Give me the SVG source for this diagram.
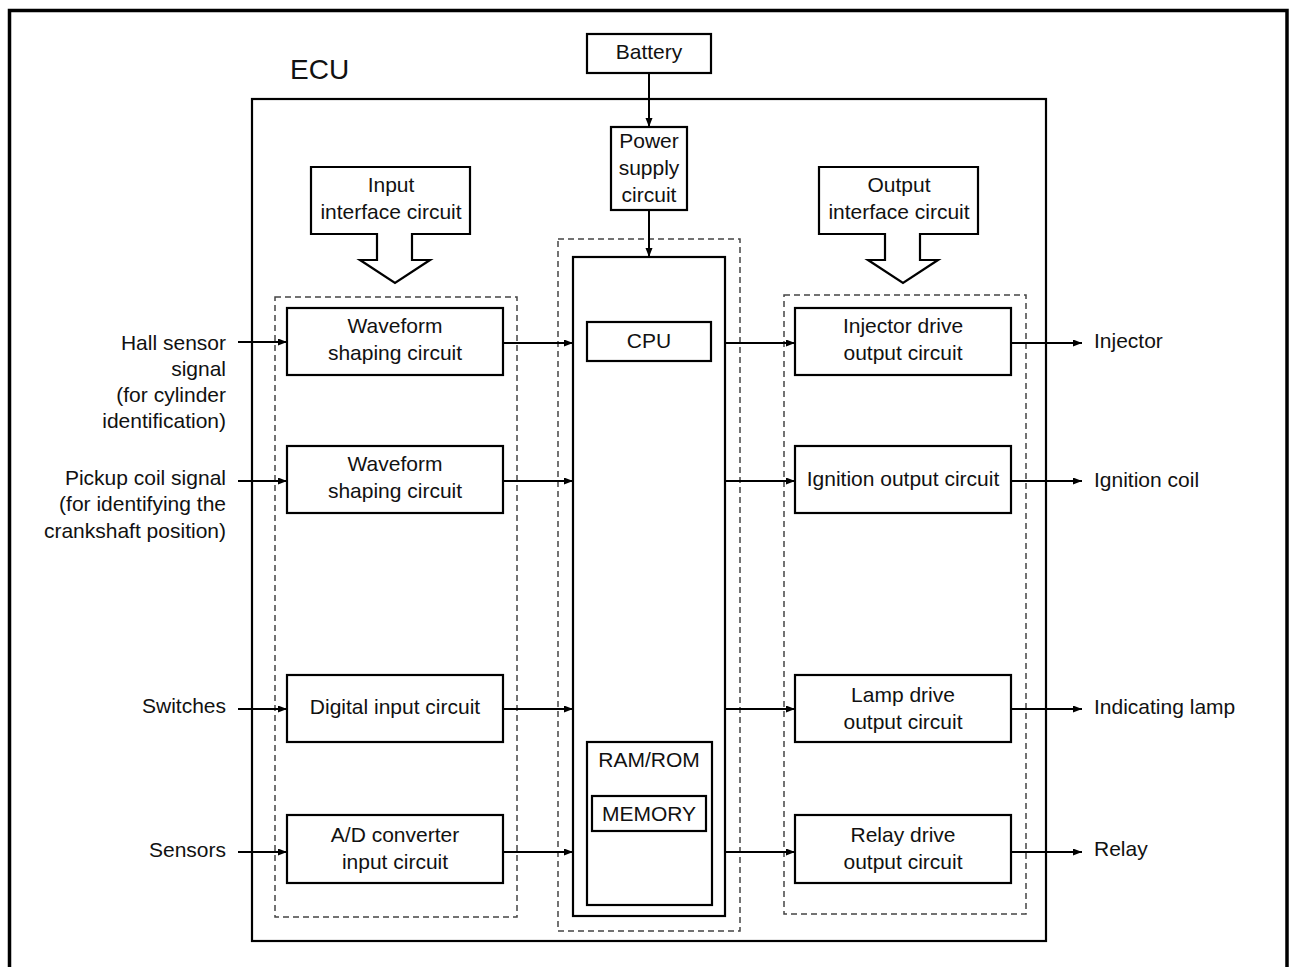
<svg xmlns="http://www.w3.org/2000/svg" width="1289" height="967" viewBox="0 0 1289 967">
<style>
text{font-family:"Liberation Sans",Arial,sans-serif;font-size:21px;fill:#111}
.c{text-anchor:middle}
.r{text-anchor:end}
.box{fill:#fff;stroke:#000;stroke-width:2.2}
.dash{fill:none;stroke:#444;stroke-width:1.5;stroke-dasharray:6 4}
.ln{fill:none;stroke:#000;stroke-width:2;marker-end:url(#ah)}
</style>
<defs>
<marker id="ah" markerUnits="userSpaceOnUse" markerWidth="10" markerHeight="8" refX="9" refY="3.5" orient="auto">
<path d="M0,0 L9,3.5 L0,7 z" fill="#000"/>
</marker>
</defs>
<rect width="1289" height="967" fill="#fff"/>
<path d="M9.5,967 V10.5 H1287 V967" fill="none" stroke="#000" stroke-width="3.5"/>
<g id="ecu">
<rect class="box" x="252" y="99" width="794" height="842" fill="none"/>
<text x="290" y="79" style="font-size:28px">ECU</text>
</g>
<g id="dashed-groups">
<rect class="dash" x="275" y="297" width="242" height="620"/>
<rect class="dash" x="558" y="239" width="182" height="692"/>
<rect class="dash" x="784" y="295" width="242" height="619"/>
</g>
<g id="battery">
<rect class="box" x="587" y="34" width="124" height="39"/>
<text class="c" x="649" y="59">Battery</text>
</g>
<g id="power">
<rect class="box" x="611" y="127" width="76" height="83"/>
<text class="c" x="649" y="148">Power</text>
<text class="c" x="649" y="175">supply</text>
<text class="c" x="649" y="202">circuit</text>
</g>
<g id="input-interface">
<path class="box" d="M311,167 H470 V234 H412 V260 H430 L395,283 L360,260 H377 V234 H311 Z"/>
<text class="c" x="391" y="192">Input</text>
<text class="c" x="391" y="219">interface circuit</text>
</g>
<g id="output-interface">
<path class="box" d="M819,167 H978 V234 H920 V260 H938 L903,283 L868,260 H885 V234 H819 Z"/>
<text class="c" x="899" y="192">Output</text>
<text class="c" x="899" y="219">interface circuit</text>
</g>
<g id="cpu-unit">
<rect class="box" x="573" y="257" width="152" height="659"/>
</g>
<g id="cpu">
<rect class="box" x="587" y="322" width="124" height="39"/>
<text class="c" x="649" y="348">CPU</text>
</g>
<g id="ramrom">
<rect class="box" x="587" y="742" width="125" height="163"/>
<text class="c" x="649" y="767">RAM/ROM</text>
</g>
<g id="memory">
<rect class="box" x="592" y="796" width="114" height="35"/>
<text class="c" x="649" y="821">MEMORY</text>
</g>
<g id="wave1">
<rect class="box" x="287" y="308" width="216" height="67"/>
<text class="c" x="395" y="333">Waveform</text>
<text class="c" x="395" y="360">shaping circuit</text>
</g>
<g id="wave2">
<rect class="box" x="287" y="446" width="216" height="67"/>
<text class="c" x="395" y="471">Waveform</text>
<text class="c" x="395" y="498">shaping circuit</text>
</g>
<g id="digital">
<rect class="box" x="287" y="675" width="216" height="67"/>
<text class="c" x="395" y="714">Digital input circuit</text>
</g>
<g id="adc">
<rect class="box" x="287" y="815" width="216" height="68"/>
<text class="c" x="395" y="842">A/D converter</text>
<text class="c" x="395" y="869">input circuit</text>
</g>
<g id="injector-drive">
<rect class="box" x="795" y="308" width="216" height="67"/>
<text class="c" x="903" y="333">Injector drive</text>
<text class="c" x="903" y="360">output circuit</text>
</g>
<g id="ignition-out">
<rect class="box" x="795" y="446" width="216" height="67"/>
<text class="c" x="903" y="486">Ignition output circuit</text>
</g>
<g id="lamp-drive">
<rect class="box" x="795" y="675" width="216" height="67"/>
<text class="c" x="903" y="702">Lamp drive</text>
<text class="c" x="903" y="729">output circuit</text>
</g>
<g id="relay-drive">
<rect class="box" x="795" y="815" width="216" height="68"/>
<text class="c" x="903" y="842">Relay drive</text>
<text class="c" x="903" y="869">output circuit</text>
</g>
<g id="in-labels">
<text class="r" x="226" y="350">Hall sensor</text>
<text class="r" x="226" y="376">signal</text>
<text class="r" x="226" y="402">(for cylinder</text>
<text class="r" x="226" y="428">identification)</text>
<text class="r" x="226" y="485">Pickup coil signal</text>
<text class="r" x="226" y="511">(for identifying the</text>
<text class="r" x="226" y="538">crankshaft position)</text>
<text class="r" x="226" y="713">Switches</text>
<text class="r" x="226" y="857">Sensors</text>
</g>
<g id="out-labels">
<text x="1094" y="348">Injector</text>
<text x="1094" y="487">Ignition coil</text>
<text x="1094" y="714">Indicating lamp</text>
<text x="1094" y="856">Relay</text>
</g>
<g id="connectors">
<path class="ln" d="M649,73 V127"/>
<path class="ln" d="M649,210 V257"/>
<path class="ln" d="M238,342 H287"/>
<path class="ln" d="M238,481 H287"/>
<path class="ln" d="M238,709 H287"/>
<path class="ln" d="M238,852 H287"/>
<path class="ln" d="M503,343 H573"/>
<path class="ln" d="M503,481 H573"/>
<path class="ln" d="M503,709 H573"/>
<path class="ln" d="M503,852 H573"/>
<path class="ln" d="M725,343 H795"/>
<path class="ln" d="M725,481 H795"/>
<path class="ln" d="M725,709 H795"/>
<path class="ln" d="M725,852 H795"/>
<path class="ln" d="M1011,343 H1082"/>
<path class="ln" d="M1011,481 H1082"/>
<path class="ln" d="M1011,709 H1082"/>
<path class="ln" d="M1011,852 H1082"/>
</g>
</svg>
